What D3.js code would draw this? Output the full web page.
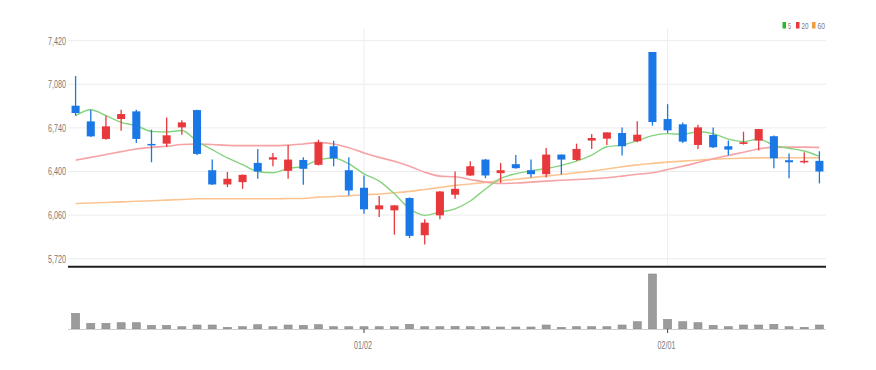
<!DOCTYPE html>
<html>
<head>
<meta charset="utf-8">
<script src="https://cdn.jsdelivr.net/npm/d3@7.9.0/dist/d3.min.js"></script>
<style>
  body { margin: 0; background: #fff; }
  svg { display: block; font-family: "Liberation Sans Narrow", "Liberation Sans", sans-serif; }
</style>
</head>
<body>
<svg id="chart" width="876" height="370"></svg>
<script>
// trading days (MM/DD)
const dates = [
  "12/06","12/07","12/08","12/09","12/12","12/13","12/14","12/15","12/16","12/19",
  "12/20","12/21","12/22","12/23","12/26","12/27","12/28","12/29","12/30","01/02",
  "01/03","01/04","01/05","01/06","01/09","01/10","01/11","01/12","01/13","01/16",
  "01/17","01/18","01/19","01/20","01/25","01/26","01/27","01/30","01/31","02/01",
  "02/02","02/03","02/06","02/07","02/08","02/09","02/10","02/13","02/14","02/15"
];
const open = [
  6913,6791,6654,6809,6869,6615,6617,6744,6879,6410,
  6299,6317,6467,6493,6405,6490,6452,6597,6410,6273,
  6105,6097,6193,5903,6058,6219,6369,6493,6387,6457,
  6410,6379,6532,6490,6641,6656,6700,6636,7332,6809,
  6768,6607,6685,6597,6615,6641,6675,6488,6472,6483
];
const high = [
  7145,6881,6835,6881,6881,6726,6822,6799,6881,6493,
  6397,6377,6576,6545,6607,6511,6648,6640,6511,6369,
  6208,6136,6198,6027,6247,6400,6480,6498,6467,6529,
  6493,6584,6532,6617,6692,6705,6744,6791,7332,6925,
  6783,6765,6744,6641,6710,6731,6680,6540,6550,6558
];
const low = [
  6835,6669,6648,6718,6623,6472,6591,6687,6529,6294,
  6278,6265,6343,6441,6343,6296,6447,6441,6213,6071,
  6045,5908,5882,5830,6027,6188,6364,6348,6312,6421,
  6353,6353,6377,6483,6576,6607,6524,6628,6758,6700,
  6623,6576,6584,6524,6610,6563,6426,6348,6462,6307
];
const close = [
  6856,6674,6752,6848,6654,6607,6682,6783,6537,6299,
  6343,6374,6400,6511,6493,6421,6628,6503,6252,6105,
  6136,6136,5898,6001,6244,6265,6441,6369,6410,6426,
  6379,6532,6493,6576,6661,6705,6597,6687,6786,6721,
  6633,6744,6589,6571,6628,6731,6503,6472,6483,6400
];
const volume = [
  314000,114000,114000,126000,126000,74000,74000,46000,80000,80000,
  34000,46000,86000,46000,80000,74000,86000,46000,46000,46000,
  46000,46000,94000,46000,46000,54000,46000,46000,40000,40000,
  40000,80000,34000,46000,46000,46000,80000,146000,1100000,194000,
  146000,126000,74000,46000,80000,80000,94000,46000,34000,80000
];
const ma5 = [
  6835,6881,6835,6783,6757,6713,6708,6720,6635,6570,
  6506,6454,6400,6390,6424,6440,6491,6505,6459,6382,
  6325,6226,6110,6058,6083,6109,6170,6264,6346,6382,
  6405,6423,6448,6481,6528,6593,6606,6640,6680,6695,
  6690,6710,6695,6652,6633,6653,6604,6581,6560,6518
];
const ma20 = [
  6488,6510,6532,6555,6576,6588,6597,6610,6615,6610,
  6604,6602,6602,6602,6606,6615,6625,6615,6585,6545,
  6510,6480,6441,6395,6364,6359,6338,6317,6307,6310,
  6317,6325,6332,6338,6343,6351,6364,6378,6390,6416,
  6441,6470,6500,6525,6550,6576,6588,6590,6590,6588
];
const ma60 = [
  6151,6154,6158,6163,6168,6172,6177,6182,6187,6188,
  6188,6188,6188,6188,6189,6190,6200,6205,6210,6219,
  6225,6234,6245,6260,6276,6292,6303,6315,6328,6340,
  6352,6364,6377,6390,6403,6420,6437,6452,6463,6473,
  6481,6488,6495,6501,6504,6506,6507,6507,6507,6506
];
const priceTicks = [5720, 6060, 6400, 6740, 7080, 7420];
const dateTicks = ["01/02", "02/01"];

const RED = "#e8383b", BLUE = "#1a78e6";
const svg = d3.select("#chart");
const left = 68, right = 827;
const priceTop = 40.7, priceBottom = 258.7, panelBottom = 266.7;
const volTop = 274, volBottom = 329;

let x = d3.scaleBand().domain(dates).range([left, right]).paddingInner(0.47).paddingOuter(0.235);
let cx = (d) => x(d) + x.bandwidth() / 2;
let y = d3.scaleLinear().domain([5720, 7420]).range([priceBottom, priceTop]);
let yv = d3.scaleLinear().domain([0, 1100000]).range([volBottom, volTop]);

// horizontal grid
svg.append("g")
  .selectAll("line")
  .data(priceTicks)
  .join("line")
  .attr("x1", left).attr("x2", right - 1)
  .attr("y1", (d) => y(d)).attr("y2", (d) => y(d))
  .attr("stroke", "#ececec");

// vertical grid at labelled dates
svg.append("g")
  .selectAll("line")
  .data(dateTicks)
  .join("line")
  .attr("x1", (d) => cx(d)).attr("x2", (d) => cx(d))
  .attr("y1", 28).attr("y2", panelBottom)
  .attr("stroke", "#ececec");

// price labels
svg.append("g")
  .selectAll("text")
  .data(priceTicks)
  .join("text")
  .attr("x", 66).attr("y", (d) => y(d))
  .attr("dy", "0.35em")
  .attr("text-anchor", "end")
  .attr("font-size", 11)
  .attr("fill", "#7a7a7a")
  .attr("textLength", 18).attr("lengthAdjust", "spacingAndGlyphs")
  .text((d) => d3.format(",")(d));

// moving averages
const lineGen = (arr) => d3.line().x((d, i) => cx(dates[i])).y((d) => y(d)).curve(d3.curveMonotoneX)(arr);
svg.append("path").attr("d", lineGen(ma60)).attr("fill", "none").attr("stroke", "#fbc592").attr("stroke-width", 1.6);
svg.append("path").attr("d", lineGen(ma20)).attr("fill", "none").attr("stroke", "#f5a3a5").attr("stroke-width", 1.6);
svg.append("path").attr("d", lineGen(ma5)).attr("fill", "none").attr("stroke", "#86d37f").attr("stroke-width", 1.4);

// candles
let candles = svg.append("g")
  .selectAll("g")
  .data(dates.map((d, i) => ({ d, o: open[i], h: high[i], l: low[i], c: close[i] })))
  .join("g");
candles.append("line")
  .attr("x1", (p) => cx(p.d)).attr("x2", (p) => cx(p.d))
  .attr("y1", (p) => y(p.h)).attr("y2", (p) => y(p.l))
  .attr("stroke", (p) => (p.c >= p.o ? RED : BLUE))
  .attr("stroke-width", 1.3);
candles.append("rect")
  .attr("x", (p) => x(p.d))
  .attr("width", x.bandwidth())
  .attr("y", (p) => y(Math.max(p.o, p.c)))
  .attr("height", (p) => Math.max(1.5, Math.abs(y(p.o) - y(p.c))))
  .attr("fill", (p) => (p.c >= p.o ? RED : BLUE));

// panel divider
svg.append("line")
  .attr("x1", left).attr("x2", right - 1)
  .attr("y1", panelBottom).attr("y2", panelBottom)
  .attr("stroke", "#1e1e1e").attr("stroke-width", 2);

// volume
svg.append("g")
  .selectAll("rect")
  .data(volume)
  .join("rect")
  .attr("x", (d, i) => x(dates[i]))
  .attr("width", x.bandwidth())
  .attr("y", (d) => yv(d))
  .attr("height", (d) => volBottom - yv(d))
  .attr("fill", "#9b9b9b")
  .attr("stroke", "#8a8a8a")
  .attr("stroke-width", 0.6);

svg.append("line")
  .attr("x1", left).attr("x2", right - 1)
  .attr("y1", volBottom + 0.5).attr("y2", volBottom + 0.5)
  .attr("stroke", "#cfcfcf");

// date axis
let xt = svg.append("g").selectAll("g").data(dateTicks).join("g");
xt.append("line")
  .attr("x1", (d) => cx(d)).attr("x2", (d) => cx(d))
  .attr("y1", volBottom).attr("y2", volBottom + 4)
  .attr("stroke", "#444");
xt.append("text")
  .attr("x", (d) => cx(d) - 1).attr("y", 349)
  .attr("text-anchor", "middle")
  .attr("font-size", 11)
  .attr("fill", "#7a7a7a")
  .attr("textLength", 18).attr("lengthAdjust", "spacingAndGlyphs")
  .text((d) => d);

// legend
const legendItems = [
  { label: "5", color: "#2db52d", x: 782.5, w: 3 },
  { label: "20", color: "#e8383b", x: 796, w: 7 },
  { label: "60", color: "#f39a3c", x: 812, w: 7.5 }
];
let lg = svg.append("g").selectAll("g").data(legendItems).join("g");
lg.append("rect")
  .attr("x", (d) => d.x).attr("y", 22)
  .attr("width", 3.5).attr("height", 6.5)
  .attr("fill", (d) => d.color);
lg.append("text")
  .attr("x", (d) => d.x + 5.5).attr("y", 28.5)
  .attr("font-size", 9)
  .attr("fill", "#7a7a7a")
  .attr("textLength", (d) => d.w).attr("lengthAdjust", "spacingAndGlyphs")
  .text((d) => d.label);
</script>
</body>
</html>
